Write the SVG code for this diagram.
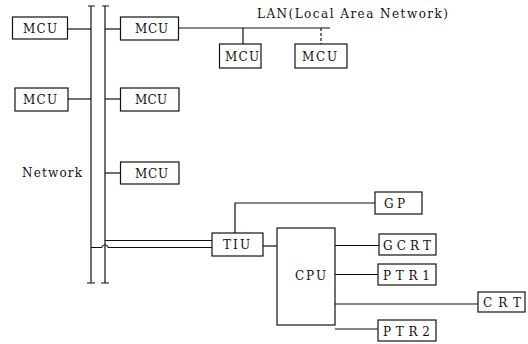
<svg xmlns="http://www.w3.org/2000/svg" width="528" height="344" viewBox="0 0 528 344">
<style>
rect.box{fill:#fff;stroke:#111;stroke-width:1.2}
.ln{fill:none;stroke:#111;stroke-width:1.2}
.dash{stroke-dasharray:3 2}
text{font-family:"DejaVu Serif","Liberation Serif",serif;font-size:12px;fill:#111}
</style>
<rect width="528" height="344" fill="#fff"/>
<g id="connectors">
<path class="ln" d="M91 6V283M88 6H95M87 283H95"/>
<path class="ln" d="M105 6V283M102 6H109M101 283H109"/>
<path class="ln" d="M67.5 29H91"/>
<path class="ln" d="M105 29H120.5"/>
<path class="ln" d="M178.5 28H330"/>
<path class="ln" d="M243 28V44"/>
<path class="ln dash" d="M321 28V44"/>
<path class="ln" d="M68 99H91"/>
<path class="ln" d="M105 99H120.5"/>
<path class="ln" d="M105 173H120.5"/>
<path class="ln" d="M105 240.5H212"/>
<path class="ln" d="M91 247.5H101.5Q105 242 108.5 247.5H212"/>
<path class="ln" d="M235 233V203H375"/>
<path class="ln" d="M263 246H277"/>
<path class="ln" d="M335 245.5H379"/>
<path class="ln" d="M335 274.5H378"/>
<path class="ln" d="M335 304H478"/>
<path class="ln" d="M335 329H378"/>
</g>
<text id="lan-label" x="257" y="18" textLength="191" lengthAdjust="spacing">LAN(Local Area Network)</text>
<text id="network-label" x="22" y="177" textLength="60" lengthAdjust="spacing">Network</text>
<g id="mcu1"><rect class="box" x="12.5" y="17" width="55" height="22"/><text x="23" y="32.5" textLength="34" lengthAdjust="spacing">MCU</text></g>
<g id="mcu2"><rect class="box" x="120.5" y="17" width="58" height="23"/><text x="135" y="33" textLength="33" lengthAdjust="spacing">MCU</text></g>
<g id="mcu-lan1"><rect class="box" x="219.5" y="44" width="41.5" height="24"/><text x="225" y="60.5" textLength="34" lengthAdjust="spacing">MCU</text></g>
<g id="mcu-lan2"><rect class="box" x="295" y="44" width="52" height="24"/><text x="302" y="60.5" textLength="35" lengthAdjust="spacing">MCU</text></g>
<g id="mcu3"><rect class="box" x="15" y="88" width="53" height="23"/><text x="23" y="104" textLength="34" lengthAdjust="spacing">MCU</text></g>
<g id="mcu4"><rect class="box" x="120.5" y="88" width="58.5" height="23"/><text x="135" y="104" textLength="32" lengthAdjust="spacing">MCU</text></g>
<g id="mcu5"><rect class="box" x="120.5" y="162" width="58.5" height="22"/><text x="135" y="177.5" textLength="33" lengthAdjust="spacing">MCU</text></g>
<g id="tiu"><rect class="box" x="212" y="233" width="51" height="23"/><text x="223" y="249" textLength="27" lengthAdjust="spacing">TIU</text></g>
<g id="gp"><rect class="box" x="375" y="192" width="47" height="22"/><text x="384" y="207.5" textLength="21" lengthAdjust="spacing">GP</text></g>
<g id="cpu"><rect class="box" x="277" y="228" width="58" height="97"/><text x="295" y="280" textLength="31" lengthAdjust="spacing">CPU</text></g>
<g id="gcrt"><rect class="box" x="379" y="234" width="57" height="21"/><text x="383" y="249.5" textLength="48" lengthAdjust="spacing">GCRT</text></g>
<g id="ptr1"><rect class="box" x="378" y="264" width="58" height="21"/><text x="383" y="279.5" textLength="47" lengthAdjust="spacing">PTR1</text></g>
<g id="crt"><rect class="box" x="478" y="292" width="47" height="20"/><text x="483" y="306.5" textLength="38" lengthAdjust="spacing">CRT</text></g>
<g id="ptr2"><rect class="box" x="378" y="320" width="58" height="21"/><text x="383" y="335.5" textLength="47" lengthAdjust="spacing">PTR2</text></g>
</svg>
